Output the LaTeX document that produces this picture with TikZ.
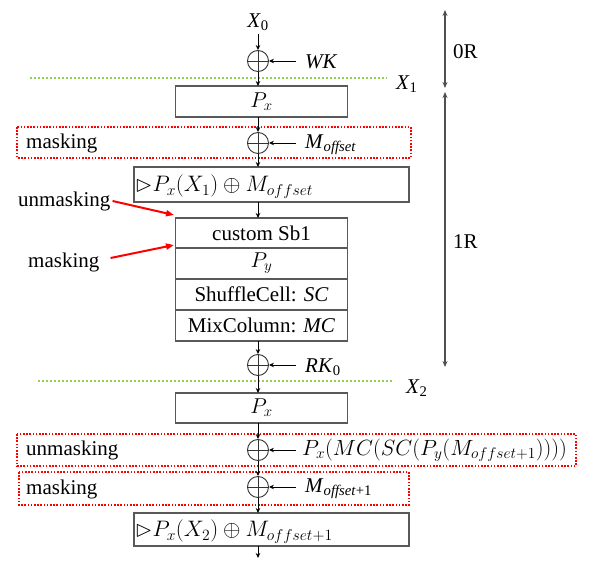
\RequirePackage{fix-cm}
\documentclass[tikz,border=0pt]{standalone}
\usepackage{amssymb}
\usepackage{fontspec}
\setmainfont{Liberation Serif}
\usetikzlibrary{arrows.meta}
\definecolor{boxgray}{RGB}{89,89,89}
\definecolor{dotgreen}{RGB}{146,208,80}
\definecolor{dotred}{RGB}{255,0,0}
\definecolor{axisgray}{RGB}{80,80,80}
\newcommand{\tri}{\mathord{\vartriangleright}}
\begin{document}
\begin{tikzpicture}[x=1pt,y=-1pt,
  font=\fontsize{21}{25}\selectfont,
  mathbig/.style={font=\fontsize{22.4}{26}\selectfont},
  mathmid/.style={font=\fontsize{21.5}{26}\selectfont},
  mathlong/.style={font=\fontsize{22}{26}\selectfont},
  box/.style={draw=boxgray, line width=1.1pt, inner sep=0pt, outer sep=0pt, minimum width=172pt},
  widebox/.style={draw=boxgray, line width=1.1pt, inner sep=0pt, outer sep=0pt, minimum width=275pt},
  xorn/.style={circle, draw=black!80, line width=0.9pt, minimum size=21pt, inner sep=0pt,
    path picture={\draw[line width=0.9pt,black!80] (path picture bounding box.north) -- (path picture bounding box.south) (path picture bounding box.west) -- (path picture bounding box.east);}},
  arr/.style={-{Stealth[length=5pt,width=4.5pt]}, line width=0.8pt, black},
  axis/.style={{Stealth[length=6pt,width=5pt]}-{Stealth[length=6pt,width=5pt]}, line width=1.3pt, axisgray},
  redarr/.style={-{Triangle[length=8pt,width=6pt]}, line width=2pt, dotred},
  greendot/.style={dotgreen, line width=2pt, dash pattern=on 2pt off 2pt},
  reddot/.style={dotred, line width=1.6pt, dash pattern=on 1.6pt off 1.6pt},
  lbl/.style={anchor=west, inner sep=0pt},
]
\useasboundingbox (0,0) rectangle (590,564);

% round axes
\coordinate (r0t) at (445,10);
\coordinate (r0b) at (445,88);
\coordinate (r1t) at (445,92);
\coordinate (r1b) at (445,367);
\draw[axis] (r0t) -- (r0b);
\draw[axis] (r1t) -- (r1b);
\node[lbl] (l0R) at (453,52) {0R};
\node[lbl] (l1R) at (453,242) {1R};

% green dotted round borders
\coordinate (g1a) at (30,78);
\coordinate (g1b) at (387,78);
\coordinate (g2a) at (38,381);
\coordinate (g2b) at (394,381);
\draw[greendot] (g1a) -- (g1b);
\draw[greendot] (g2a) -- (g2b);
\node[lbl] (X1) at (396,84) {\textit{X}\textsubscript{1}};
\node[lbl] (X2) at (406,388) {\textit{X}\textsubscript{2}};

% red dotted masking regions
\draw[reddot] (17,127) rectangle (411,158);
\draw[reddot] (17,434) rectangle (576,466);
\draw[reddot] (19,472) rectangle (409,505);
\node[lbl] (mask1) at (26,143) {masking};
\node[lbl] (unmask2) at (26,450) {unmasking};
\node[lbl] (mask3) at (26,489) {masking};

% main chain
\node (X0) at (258,22) {\textit{X}\textsubscript{0}};
\node[xorn] (xor1) at (258,61) {};
\node[lbl] (WK) at (305,62) {\textit{WK}};
\coordinate (wkin) at (296,61);

\node[box, minimum height=31pt, mathmid] (px1) at (261.5,101.5) {$P_x$};

\node[xorn] (xor2) at (258,143) {};
\node[lbl] (Mo1) at (305,145) {\textit{M}\textsubscript{\textit{offset}}};
\coordinate (m1in) at (296,143);

\node[widebox, minimum height=35pt] (box2) at (271.5,184.5) {};
\node[lbl, mathbig] (t2) at ([xshift=1pt,yshift=-2pt]box2.west) {$\tri P_x(X_1)\oplus M_{offset}$};

\node[box, minimum height=30pt] (s1) at (261.5,233) {custom Sb1};
\node[box, minimum height=31pt, anchor=north, mathmid] (s2) at (s1.south) {$P_y$};
\node[box, minimum height=31pt, anchor=north] (s3) at (s2.south) {ShuffleCell: \textit{SC}};
\node[box, minimum height=31pt, anchor=north] (s4) at (s3.south) {MixColumn: \textit{MC}};

\node[lbl] (unmask1) at (18,201) {unmasking};
\node[lbl] (mask2) at (28,262) {masking};
\coordinate (ua) at (174,215);
\coordinate (ma) at (174,245);
\draw[redarr] ([xshift=2pt]unmask1.east) -- (ua);
\draw[redarr] ([xshift=11pt,yshift=4pt]mask2.east) -- (ma);

\node[xorn] (xor3) at (258,365) {};
\node[lbl] (RK) at (305,367) {\textit{RK}\textsubscript{0}};
\coordinate (rkin) at (296,365);

\node[box, minimum height=30pt, mathmid] (px2) at (261.5,408) {$P_x$};

\node[xorn] (xor4) at (258,450) {};
\node[lbl, mathlong] (Lng) at (302,450) {$P_x(MC(SC(P_y(M_{offset+1}))))$};
\coordinate (lin) at (296,450);

\node[xorn] (xor5) at (258,487) {};
\node[lbl] (Mo2) at (305,489) {\textit{M}\textsubscript{\textit{offset}+1}};
\coordinate (m2in) at (296,487);

\node[widebox, minimum height=33pt] (box3) at (271.5,529.5) {};
\node[lbl, mathbig] (t3) at ([xshift=1pt,yshift=-2pt]box3.west) {$\tri P_x(X_2)\oplus M_{offset+1}$};
\coordinate (outp) at (258,558);

% connectors
\draw[arr] (X0.south) -- (xor1.north);
\draw[arr] (wkin) -- (xor1.east);
\draw[arr] (xor1.south) -- (xor1.south |- px1.north);
\draw[arr] (xor2.north |- px1.south) -- (xor2.north);
\draw[arr] (m1in) -- (xor2.east);
\draw[arr] (xor2.south) -- (xor2.south |- box2.north);
\draw[arr] (xor2.south |- box2.south) -- (xor2.south |- s1.north);
\draw[arr] (xor3.north |- s4.south) -- (xor3.north);
\draw[arr] (rkin) -- (xor3.east);
\draw[arr] (xor3.south) -- (xor3.south |- px2.north);
\draw[arr] (xor4.north |- px2.south) -- (xor4.north);
\draw[arr] (lin) -- (xor4.east);
\draw[arr] (xor4.south) -- (xor5.north);
\draw[arr] (m2in) -- (xor5.east);
\draw[arr] (xor5.south) -- (xor5.south |- box3.north);
\draw[arr] (xor5.south |- box3.south) -- (outp);
\end{tikzpicture}
\end{document}
